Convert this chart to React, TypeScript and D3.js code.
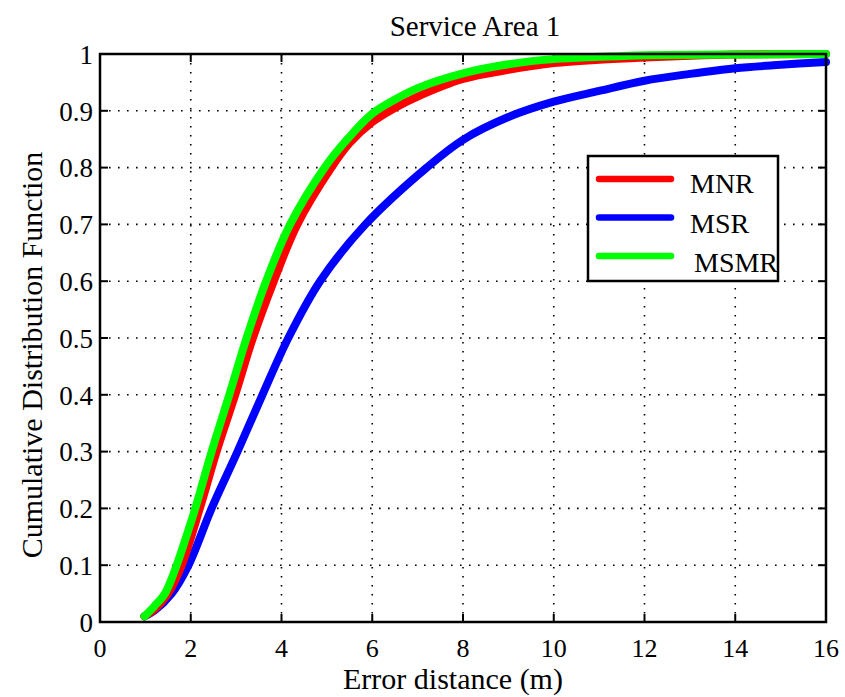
import React from "react";
import * as d3 from "d3";

const xTicks = [0, 2, 4, 6, 8, 10, 12, 14, 16];
const yTicks = [0, 0.1, 0.2, 0.3, 0.4, 0.5, 0.6, 0.7, 0.8, 0.9, 1];
const yTickLabels = ["0", "0.1", "0.2", "0.3", "0.4", "0.5", "0.6", "0.7", "0.8", "0.9", "1"];

const mnr: [number, number][] = [
  [0.98, 0.01], [1.2, 0.022], [1.5, 0.05], [1.8, 0.1], [2.2, 0.2], [2.57, 0.3], [2.98, 0.4],
  [3.37, 0.5], [3.83, 0.6], [4.35, 0.7], [5.1, 0.8], [5.5, 0.843], [6.0, 0.88], [6.5, 0.905],
  [7, 0.925], [8, 0.956], [9, 0.972], [10, 0.984], [11, 0.99], [12, 0.994], [13, 0.997],
  [14, 0.999], [16, 1.0],
];
const msr: [number, number][] = [
  [0.98, 0.01], [1.2, 0.02], [1.58, 0.05], [1.95, 0.1], [2.46, 0.2], [3.03, 0.3], [3.58, 0.4],
  [4.15, 0.5], [4.85, 0.6], [5.85, 0.7], [7.2, 0.8], [8, 0.849], [9, 0.889], [10, 0.916],
  [11, 0.935], [12, 0.953], [13, 0.965], [14, 0.975], [15, 0.981], [16, 0.986],
];
const msmr: [number, number][] = [
  [0.98, 0.01], [1.2, 0.028], [1.43, 0.05], [1.69, 0.1], [1.9, 0.15], [2.1, 0.2], [2.46, 0.3],
  [2.85, 0.4], [3.23, 0.5], [3.66, 0.6], [4.19, 0.7], [4.95, 0.8], [5.45, 0.85], [6.0, 0.895],
  [6.5, 0.92], [7, 0.94], [8, 0.966], [9, 0.982], [10, 0.991], [11, 0.995], [12, 0.998],
  [14, 0.999], [16, 1.0],
];

const seriesNames = ["MNR", "MSR", "MSMR"];
const seriesColors = ["#ff0000", "#0000ff", "#00ff00"];
const seriesData = [mnr, msr, msmr];
const drawOrder = [1, 0, 2];

const W = 845, H = 697;
const L = 100, R = 826, T = 54, B = 622;
const FONT = "'Liberation Serif', 'Times New Roman', serif";

export default function App() {
  const x = d3.scaleLinear().domain([0, 16]).range([L, R]);
  const y = d3.scaleLinear().domain([0, 1]).range([B, T]);
  const line = d3.line<[number, number]>().x(d => x(d[0])).y(d => y(d[1])).curve(d3.curveCatmullRom.alpha(0.5));
  const tl = 8;
  return (
    <svg width={W} height={H} style={{ position: "absolute", left: 0, top: 0, background: "#fff" }}
      fontFamily={FONT}>
      <rect x={0} y={0} width={W} height={H} fill="#fff" />
      {xTicks.slice(1, -1).map(t => (
        <line key={"gx" + t} x1={x(t)} x2={x(t)} y1={T} y2={B} stroke="#000" strokeWidth={1.6}
          strokeDasharray="1.6,7.4" />
      ))}
      {yTicks.slice(1, -1).map(t => (
        <line key={"gy" + t} x1={L} x2={R} y1={y(t)} y2={y(t)} stroke="#000" strokeWidth={1.6}
          strokeDasharray="1.6,7.4" />
      ))}
      {xTicks.map(t => (
        <g key={"tx" + t}>
          <line x1={x(t)} x2={x(t)} y1={B} y2={B - tl} stroke="#000" strokeWidth={2} />
          <line x1={x(t)} x2={x(t)} y1={T} y2={T + tl} stroke="#000" strokeWidth={2} />
          <text x={x(t)} y={657} textAnchor="middle" fontSize={26}>{t}</text>
        </g>
      ))}
      {yTicks.map((t, i) => (
        <g key={"ty" + t}>
          <line x1={L} x2={L + tl} y1={y(t)} y2={y(t)} stroke="#000" strokeWidth={2} />
          <line x1={R} x2={R - tl} y1={y(t)} y2={y(t)} stroke="#000" strokeWidth={2} />
          <text x={93} y={y(t)} dy="0.36em" textAnchor="end" fontSize={27}>{yTickLabels[i]}</text>
        </g>
      ))}
      {drawOrder.map(i => (
        <path key={seriesNames[i]} d={line(seriesData[i]) || ""} fill="none" stroke={seriesColors[i]}
          strokeWidth={8} strokeLinejoin="round" strokeLinecap="round" />
      ))}
      <rect x={L} y={T} width={R - L} height={B - T} fill="none" stroke="#000" strokeWidth={2.5} />
      <rect x={588} y={156} width={190} height={125} fill="#fff" stroke="#000" strokeWidth={2.5} />
      {seriesNames.map((n, i) => (
        <g key={"lg" + n}>
          <line x1={599} x2={671} y1={179 + i * 38.5} y2={179 + i * 38.5} stroke={seriesColors[i]}
            strokeWidth={6.5} strokeLinecap="round" />
          <text x={i === 2 ? 694 : 690} y={193 + i * 39.7} fontSize={28}>{n}</text>
        </g>
      ))}
      <text x={475} y={36} textAnchor="middle" fontSize={29}>Service Area 1</text>
      <text x={453} y={689} textAnchor="middle" fontSize={30}>Error distance (m)</text>
      <text transform="translate(42,355) rotate(-90)" textAnchor="middle" fontSize={30}>
        Cumulative Distribution Function
      </text>
    </svg>
  );
}
